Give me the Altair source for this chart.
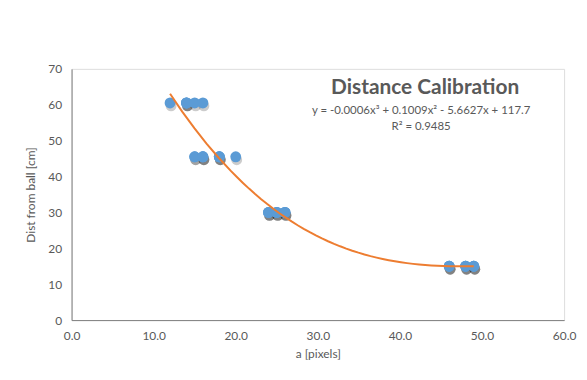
import altair as alt
import pandas as pd

# measured data (a [pixels], dist [cm]); repeated entries are overlapping samples
a_px = [12, 14, 14, 14, 15, 16,
        15, 15, 16, 16, 16, 18, 18, 18, 20,
        24, 24, 24, 25, 25, 25, 26, 26, 26,
        46, 46, 46, 48, 48, 48, 49, 49, 49]
dist_cm = [60.5] * 6 + [45.5] * 9 + [30] * 9 + [15] * 9

title_text = "Distance Calibration"
eq_text = "y = -0.0006x³ + 0.1009x² - 5.6627x + 117.7"
r2_text = "R² = 0.9485"
x_ticks = [0, 10, 20, 30, 40, 50, 60]
y_ticks = [0, 10, 20, 30, 40, 50, 60, 70]

df = pd.DataFrame({"a": a_px, "d": dist_cm})

FONT = "Lato"
GRAY = "#595959"

xs = alt.X("a:Q", scale=alt.Scale(domain=[0, 60], nice=False),
           axis=alt.Axis(values=x_ticks, format=".1f", title="a [pixels]",
                         grid=False, ticks=False, domain=True, domainColor="#7f7f7f",
                         labelFlush=False, labelOverlap=False,
                         labelColor=GRAY, labelFontSize=12, labelFont=FONT, labelPadding=11,
                         titleColor=GRAY, titleFontSize=12, titleFont=FONT, titleFontWeight="normal",
                         titlePadding=7))
ys = alt.Y("d:Q", scale=alt.Scale(domain=[0, 70], nice=False),
           axis=alt.Axis(values=y_ticks, title="Dist from ball [cm]",
                         grid=False, ticks=False, domain=True, domainColor="#7f7f7f",
                         labelFlush=False, labelOverlap=False,
                         labelColor=GRAY, labelFontSize=12, labelFont=FONT, labelPadding=10,
                         titleColor=GRAY, titleFontSize=12, titleFont=FONT, titleFontWeight="normal",
                         titlePadding=10))

base = alt.Chart(df)

shadow = base.mark_circle(color="black", opacity=0.2, size=120).encode(
    x=xs, y=ys, xOffset=alt.value(1), yOffset=alt.value(3))
pts = base.mark_circle(color="#5B9BD5", opacity=1, size=120).encode(x=xs, y=ys)
trend = base.transform_regression("a", "d", method="poly", order=3).mark_line(
    color="#ED7D31", strokeWidth=2).encode(x=xs, y=ys)

t1 = alt.Chart(pd.DataFrame({"t": [title_text]})).mark_text(
    font=FONT, fontSize=21, fontWeight="bold", color=GRAY).encode(
    text="t:N", x=alt.value(356), y=alt.value(19))
t2 = alt.Chart(pd.DataFrame({"t": [eq_text]})).mark_text(
    font=FONT, fontSize=11.5, color=GRAY).encode(
    text="t:N", x=alt.value(352), y=alt.value(42))
t3 = alt.Chart(pd.DataFrame({"t": [r2_text]})).mark_text(
    font=FONT, fontSize=11.5, color=GRAY).encode(
    text="t:N", x=alt.value(352), y=alt.value(59))

chart = alt.layer(shadow, pts, trend, t1, t2, t3).properties(
    width=496, height=253,
    autosize=alt.AutoSizeParams(type="none"),
    padding={"left": 64, "top": 60, "right": 15, "bottom": 51},
).configure_view(stroke=None).configure(background="white")

chart.save("out.html", embed_options={"renderer": "svg", "actions": False})
